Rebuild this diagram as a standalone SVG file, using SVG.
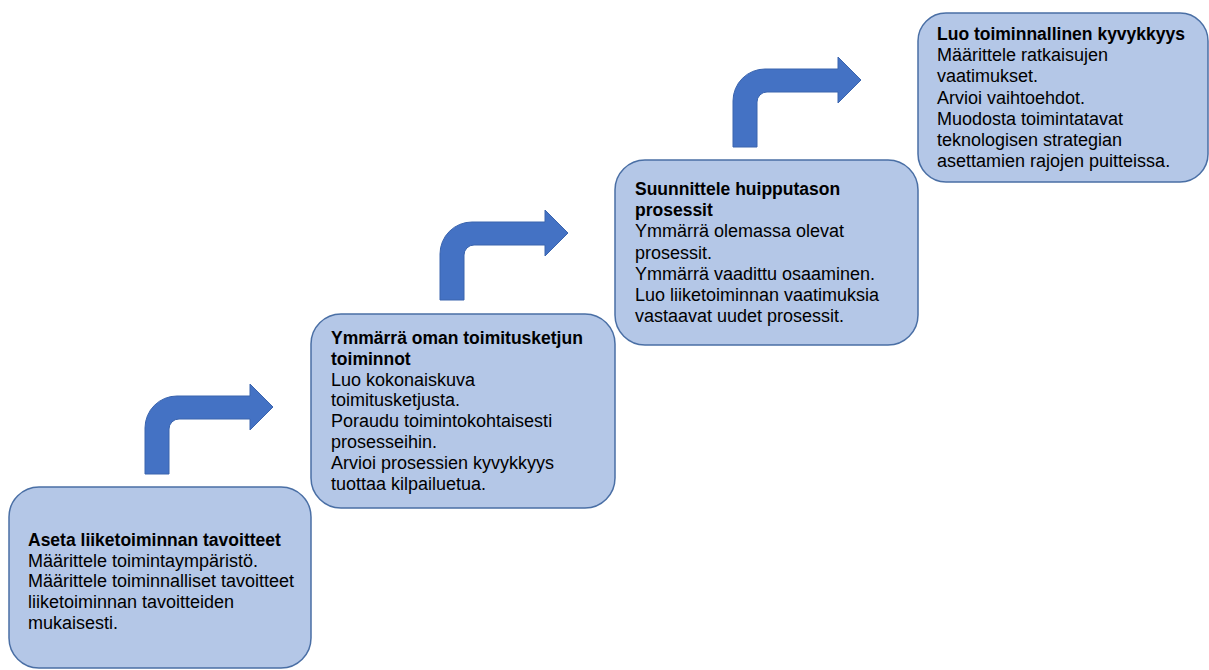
<svg xmlns="http://www.w3.org/2000/svg" width="1209" height="670" viewBox="0 0 1209 670">
  <defs>
    <style>
      .box { fill: #B4C7E7; stroke: #4A6FA5; stroke-width: 1.5; }
      .arrow { fill: #4472C4; stroke: #3A64AE; stroke-width: 1; }
      .t { font-family: "Liberation Sans", Arial, sans-serif; font-size: 18px; fill: #000; }
      .h { font-weight: bold; font-size: 17.5px; }
    </style>
    <!-- bent-up arrow, origin at bottom-left of the stem -->
    <path id="bent" d="M0,0 V-46 A32,32 0 0 1 32,-78 H105 V-90 L128,-67 L105,-44 V-55 H34 A10,10 0 0 0 24,-45 V0 Z"/>
  </defs>
  <rect width="1209" height="670" fill="#fff"/>

  <g id="connectors">
    <use href="#bent" class="arrow" transform="translate(145,474)"/>
    <use href="#bent" class="arrow" transform="translate(440,300)"/>
    <use href="#bent" class="arrow" transform="translate(733,147)"/>
  </g>

  <g id="step1">
    <rect class="box" x="9" y="487" width="302" height="181" rx="30"/>
    <text class="t" x="28" y="546">
      <tspan class="h">Aseta liiketoiminnan tavoitteet</tspan>
      <tspan x="28" dy="20.7">Määrittele toimintaympäristö.</tspan>
      <tspan x="28" dy="20.7">Määrittele toiminnalliset tavoitteet</tspan>
      <tspan x="28" dy="20.7">liiketoiminnan tavoitteiden</tspan>
      <tspan x="28" dy="20.7">mukaisesti.</tspan>
    </text>
  </g>

  <g id="step2">
    <rect class="box" x="311" y="314" width="304" height="194" rx="30"/>
    <text class="t" x="331" y="344">
      <tspan class="h">Ymmärrä oman toimitusketjun</tspan>
      <tspan class="h" x="331" dy="20.8">toiminnot</tspan>
      <tspan x="331" dy="20.8">Luo kokonaiskuva</tspan>
      <tspan x="331" dy="20.8">toimitusketjusta.</tspan>
      <tspan x="331" dy="20.8">Poraudu toimintokohtaisesti</tspan>
      <tspan x="331" dy="20.8">prosesseihin.</tspan>
      <tspan x="331" dy="20.8">Arvioi prosessien kyvykkyys</tspan>
      <tspan x="331" dy="20.8">tuottaa kilpailuetua.</tspan>
    </text>
  </g>

  <g id="step3">
    <rect class="box" x="615" y="160" width="303" height="185" rx="30"/>
    <text class="t" x="635" y="195">
      <tspan class="h">Suunnittele huipputason</tspan>
      <tspan class="h" x="635" dy="21.2">prosessit</tspan>
      <tspan x="635" dy="21.2">Ymmärrä olemassa olevat</tspan>
      <tspan x="635" dy="21.2">prosessit.</tspan>
      <tspan x="635" dy="21.2">Ymmärrä vaadittu osaaminen.</tspan>
      <tspan x="635" dy="21.2">Luo liiketoiminnan vaatimuksia</tspan>
      <tspan x="635" dy="21.2">vastaavat uudet prosessit.</tspan>
    </text>
  </g>

  <g id="step4">
    <rect class="box" x="918" y="13" width="290" height="169" rx="28"/>
    <text class="t" x="937" y="40">
      <tspan class="h">Luo toiminnallinen kyvykkyys</tspan>
      <tspan x="937" dy="21.2">Määrittele ratkaisujen</tspan>
      <tspan x="937" dy="21.2">vaatimukset.</tspan>
      <tspan x="937" dy="21.2">Arvioi vaihtoehdot.</tspan>
      <tspan x="937" dy="21.2">Muodosta toimintatavat</tspan>
      <tspan x="937" dy="21.2">teknologisen strategian</tspan>
      <tspan x="937" dy="21.2">asettamien rajojen puitteissa.</tspan>
    </text>
  </g>
</svg>
